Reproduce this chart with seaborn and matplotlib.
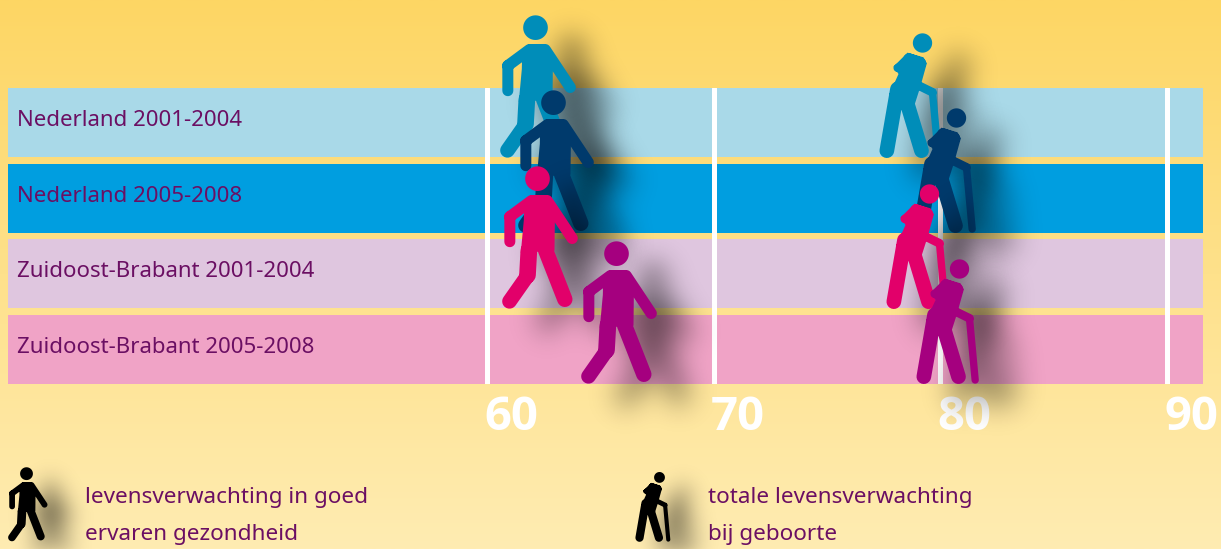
import numpy as np
import pandas as pd
import matplotlib
matplotlib.use("Agg")
import matplotlib.pyplot as plt
from matplotlib.path import Path
from matplotlib.transforms import ScaledTranslation
import seaborn as sns

# ---------- data ----------
regions = ["Nederland 2001-2004", "Nederland 2005-2008",
           "Zuidoost-Brabant 2001-2004", "Zuidoost-Brabant 2005-2008"]
healthy_years = [62.1, 62.9, 62.2, 65.7]
total_years = [79.2, 80.7, 79.5, 80.8]
band_end = [91.58, 91.58, 91.58, 91.58]
x_ticks = [60, 70, 80, 90]
x_labels = ["60", "70", "80", "90"]
band_colors = ["#A9D9E8", "#009EE0", "#DFC6DF", "#F0A3C6"]
figure_colors = ["#008DB9", "#003A6C", "#E2006A", "#A5007F"]
legend_labels = ["levensverwachting in goed\nervaren gezondheid",
                 "totale levensverwachting\nbij geboorte"]

W, H, DPI = 1221, 549, 100
TEXT = "#6B0F63"
FONT = ["Noto Sans", "DejaVu Sans"]

sns.set_theme(style="white")
plt.rcParams["font.family"] = FONT


# ---------- pictogram helpers ----------
def ccw(poly):
    p = np.asarray(poly, float)
    x, y = p[:, 0], p[:, 1]
    area = 0.5 * np.sum(x * np.roll(y, -1) - np.roll(x, -1) * y)
    return p if area > 0 else p[::-1]


def circle(c, r, n=48):
    t = np.linspace(0, 2 * np.pi, n, endpoint=False)
    return ccw(np.c_[c[0] + r * np.cos(t), c[1] + r * np.sin(t)])


def capsule(a, b, w, n=12):
    a, b = np.asarray(a, float), np.asarray(b, float)
    ang = np.arctan2(*(b - a)[::-1])
    t1 = np.linspace(ang - np.pi / 2, ang + np.pi / 2, n)
    t2 = t1 + np.pi
    r = w / 2
    return ccw(np.r_[np.c_[b[0] + r * np.cos(t1), b[1] + r * np.sin(t1)],
                     np.c_[a[0] + r * np.cos(t2), a[1] + r * np.sin(t2)]])


def make_glyph(parts, origin):
    verts, codes = [], []
    for p in parts:
        # zoom units -> pixels, y up, origin = head x / band centre
        q = ccw(np.c_[(p[:, 0] - origin[0]) / 3, -(p[:, 1] - origin[1]) / 3])
        verts += list(q) + [q[0]]
        codes += [Path.MOVETO] + [Path.LINETO] * (len(q) - 1) + [Path.CLOSEPOLY]
    verts = np.array(verts)
    return Path(verts, codes), np.abs(verts).max()


walker, walker_r = make_glyph([
    circle((168, 56), 37),
    ccw([(128, 128), (148, 106), (192, 106), (214, 128), (220, 190), (219, 272),
         (118, 278), (127, 180)]),
    capsule((155, 122), (190, 122), 34),
    capsule((150, 122), (85, 170), 34),
    capsule((85, 170), (85, 245), 33),
    capsule((197, 122), (272, 235), 34),
    capsule((142, 272), (138, 345), 50),
    capsule((136, 350), (84, 424), 44),
    capsule((192, 270), (250, 418), 46),
], (168, 343.5))

caner, caner_r = make_glyph([
    circle((175, 57), 29),
    ccw([(88, 128), (130, 86), (178, 100), (188, 118), (168, 190), (152, 240),
         (100, 255), (76, 210), (103, 150)]),
    capsule((135, 106), (168, 118), 36),
    capsule((100, 132), (135, 108), 24),
    capsule((150, 178), (205, 205), 26),
    capsule((205, 205), (222, 390), 22),
    capsule((100, 195), (68, 380), 44),
    capsule((125, 225), (172, 380), 44),
], (175, 298.5))


def marker_area(radius, scale=1.0):
    return (2 * radius * scale * 72 / DPI) ** 2


def shadow_filter(dx, dy, sigma, alpha):
    pad = int(4 * sigma)
    t = np.arange(-pad, pad + 1)
    k = np.exp(-t ** 2 / (2 * sigma ** 2))
    k /= k.sum()

    def apply(img, dpi):
        a = np.pad(img[:, :, 3], pad)
        a = np.apply_along_axis(lambda m: np.convolve(m, k, "same"), 0, a)
        a = np.apply_along_axis(lambda m: np.convolve(m, k, "same"), 1, a)
        out = np.zeros(a.shape + (4,))
        out[:, :, 3] = np.clip(a * alpha, 0, 1)
        return out, -pad + dx, -pad - dy

    return apply


def person(ax, x, y, glyph, area, color, dx=18, dy=11, sigma=10, alpha=0.78):
    frame = pd.DataFrame({"x": [x], "y": [y]})
    sns.scatterplot(data=frame, x="x", y="y", ax=ax, marker=glyph, s=area,
                    color="black", linewidth=0, clip_on=False, zorder=5,
                    legend=False)
    ax.collections[-1].set_agg_filter(shadow_filter(dx, dy, sigma, alpha))
    sns.scatterplot(data=frame, x="x", y="y", ax=ax, marker=glyph, s=area,
                    color=color, linewidth=0, clip_on=False, zorder=5,
                    legend=False)
    ax.set_xlabel("")
    ax.set_ylabel("")


# ---------- figure ----------
fig = plt.figure(figsize=(W / DPI, H / DPI), dpi=DPI)

bg = fig.add_axes([0, 0, 1, 1], zorder=-1)
gradient = np.linspace(0, 1, 256)[:, None, None]
top, bottom = np.array([253, 214, 100]) / 255, np.array([255, 236, 178]) / 255
bg.imshow(top + (bottom - top) * gradient, aspect="auto", extent=(0, 1, 0, 1))
bg.axis("off")

ax = fig.add_axes([8 / W, (H - 384) / H, 1195 / W, 296 / H])
ax.patch.set_alpha(0)
bands = pd.DataFrame({"region": regions, "end": band_end})
sns.barplot(data=bands, x="end", y="region", hue="region", palette=band_colors,
            width=0.912, saturation=1, linewidth=0, legend=False, ax=ax)
ax.set_xlim(38.87, 91.58)
ax.set_ylim(3.456, -0.456)
ax.set_xticks(x_ticks, x_labels, ha="left", fontsize=34, fontweight="bold",
              color="white", family=["Open Sans", "DejaVu Sans"])
ax.set_yticks(range(len(regions)), regions, ha="left", fontsize=16.0, color=TEXT)
ax.tick_params(axis="x", length=0, pad=7)
ax.tick_params(axis="y", length=0, pad=-6.5)
for lab in ax.get_xticklabels():
    lab.set_transform(lab.get_transform()
                      + ScaledTranslation(-3 / DPI, 0, fig.dpi_scale_trans))
for lab in ax.get_yticklabels():
    lab.set_transform(lab.get_transform()
                      + ScaledTranslation(0, 4.5 / DPI, fig.dpi_scale_trans))
ax.grid(axis="x", color="white", linewidth=3.6)
ax.grid(axis="y", visible=False)
ax.set_axisbelow(False)
sns.despine(ax=ax, left=True, bottom=True)

for i in range(len(regions)):
    person(ax, healthy_years[i], i, walker, marker_area(walker_r), figure_colors[i])
for i in range(len(regions)):
    person(ax, total_years[i], i, caner, marker_area(caner_r), figure_colors[i])

# ---------- key ----------
key = fig.add_axes([0, 0, 1, 1], zorder=5)
key.patch.set_alpha(0)
key.axis("off")
person(key, 26, 523, walker, marker_area(walker_r, 0.52), "black",
       dx=12, dy=7, sigma=8, alpha=0.8)
person(key, 658.7, 522, caner, marker_area(caner_r, 0.56), "black",
       dx=12, dy=7, sigma=8, alpha=0.8)
key.set_xlim(0, W)
key.set_ylim(H, 0)
key.text(85, 516, legend_labels[0], color=TEXT, fontsize=16.2, va="center",
         linespacing=2.0)
key.text(708, 516, legend_labels[1], color=TEXT, fontsize=16.2, va="center",
         linespacing=2.0)

fig.savefig("out.png", dpi=DPI)
